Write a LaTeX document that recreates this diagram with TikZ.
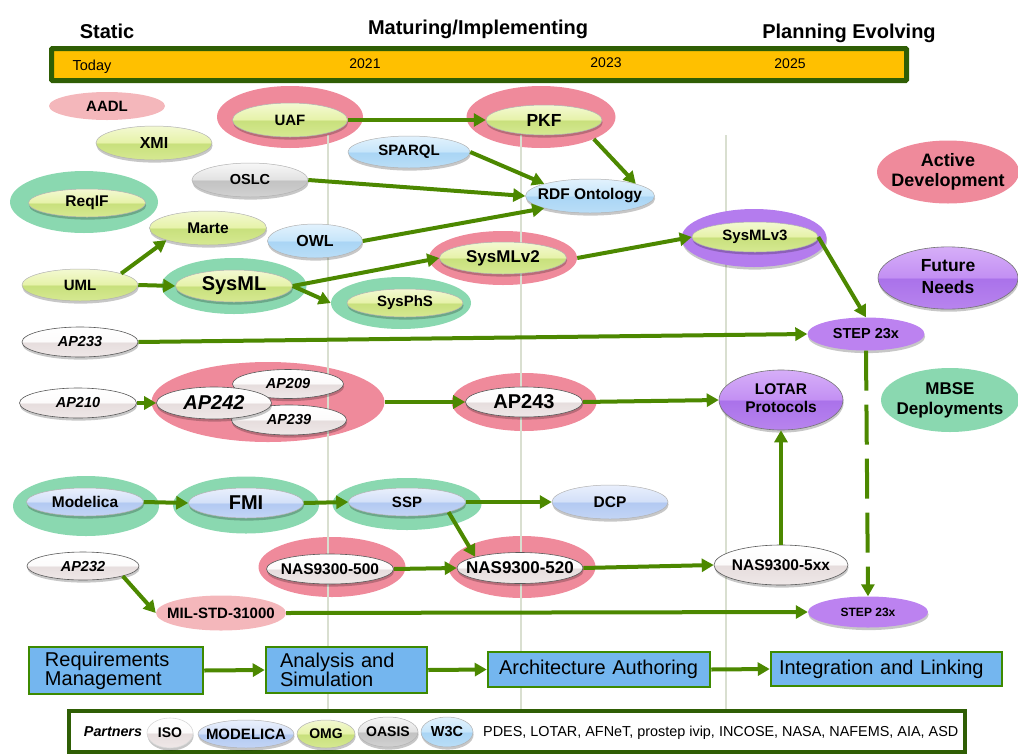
\documentclass[tikz,border=0pt]{standalone}
\usepackage{fontspec}
\setmainfont{Liberation Sans}
\usetikzlibrary{shapes.geometric,arrows.meta,shadows}

% palette
\definecolor{lnk}{HTML}{4C8800}
\definecolor{gridc}{HTML}{D9DFD0}
\definecolor{halopink}{HTML}{EF8A9B}
\definecolor{halogreen}{HTML}{8AD8B0}
\definecolor{lightpink}{HTML}{F4B7BB}
\definecolor{stepviolet}{HTML}{BC82F0}
\definecolor{haloviolet}{HTML}{B47CEE}
\definecolor{barfill}{HTML}{FFC000}
\definecolor{barline}{HTML}{2F5E05}
\definecolor{boxfill}{HTML}{74B6EF}
\definecolor{boxline}{HTML}{3E8A00}

% glossy fills: bottom, lower middle, upper middle, top
\definecolor{ygA}{HTML}{D6E992}\definecolor{ygB}{HTML}{C8E07C}
\definecolor{ygC}{HTML}{E6F2A9}\definecolor{ygD}{HTML}{F3F9D2}
\definecolor{whA}{HTML}{EFE8E8}\definecolor{whB}{HTML}{E6DDDD}
\definecolor{whC}{HTML}{FCFBFB}\definecolor{whD}{HTML}{FFFFFF}
\definecolor{lbA}{HTML}{BADEF7}\definecolor{lbB}{HTML}{A9D5F5}
\definecolor{lbC}{HTML}{C6E5FA}\definecolor{lbD}{HTML}{E2F2FD}
\definecolor{pbA}{HTML}{C3D5F5}\definecolor{pbB}{HTML}{B2C9F2}
\definecolor{pbC}{HTML}{D3E0F8}\definecolor{pbD}{HTML}{E9EFFC}
\definecolor{grA}{HTML}{D2D2D2}\definecolor{grB}{HTML}{C2C2C2}
\definecolor{grC}{HTML}{E2E2E2}\definecolor{grD}{HTML}{F7F7F7}
\definecolor{puA}{HTML}{B884EE}\definecolor{puB}{HTML}{AA72EA}
\definecolor{puC}{HTML}{C390F3}\definecolor{puD}{HTML}{D6AEF8}

\newcommand{\glossyshade}[5]{%
  \pgfdeclareverticalshading{#1}{100bp}{color(0bp)=(#2); color(25bp)=(#2);
    color(49.5bp)=(#3); color(50.5bp)=(#4); color(75bp)=(#5); color(100bp)=(#5)}}
\glossyshade{glossyyg}{ygA}{ygB}{ygC}{ygD}
\glossyshade{glossywh}{whA}{whB}{whC}{whD}
\glossyshade{glossylb}{lbA}{lbB}{lbC}{lbD}
\glossyshade{glossypb}{pbA}{pbB}{pbC}{pbD}
\glossyshade{glossygr}{grA}{grB}{grC}{grD}
\glossyshade{glossypu}{puA}{puB}{puC}{puD}

% zero-width label so the ellipse keeps its given size
\newcommand{\ctext}[1]{\makebox[0pt]{#1}}
\newcommand{\twolines}[2]{\makebox[0pt]{\begin{tabular}{@{}c@{}}#1\\#2\end{tabular}}}

\tikzset{
  ov/.style={ellipse, inner sep=0pt, font=\bfseries\fontsize{15}{17}\selectfont},
  sz/.style 2 args={minimum width=#1pt, minimum height=#2pt},
  fs/.style={font=\bfseries\fontsize{#1}{#1}\selectfont},
  fsi/.style={font=\bfseries\itshape\fontsize{#1}{#1}\selectfont},
  halo/.style={ov, fill=#1},
  softshadow/.style={drop shadow={shadow xshift=0.6pt, shadow yshift=-2.6pt, opacity=0.22, fill=black}},
  gl/.style={ov, shading=glossy#1, draw=black!30, line width=0.5pt, softshadow},
  glw/.style={ov, shading=glossywh, draw=black!65, line width=0.6pt, softshadow},
  glp/.style={ov, shading=glossypu, draw=black!55, line width=0.6pt, softshadow},
  stepnode/.style={ov, fill=stepviolet, softshadow},
  conn/.style={draw=lnk, line width=4pt, -{Triangle[length=12pt,width=13pt]}},
  gridline/.style={draw=gridc, line width=1.4pt},
  stagebox/.style={draw=boxline, line width=2.5pt, fill=boxfill, inner ysep=0pt,
    align=left, font=\fontsize{20}{19}\selectfont},
}

\begin{document}
\begin{tikzpicture}[x=1pt,y=-1pt]
\useasboundingbox (0,0) rectangle (1018,753);

% ---------- phase headings and time bar ----------
\node[fs=20] (hstatic) at (107,31) {Static};
\node[fs=20] (hmature) at (478,29) {Maturing/Implementing};
\node[fs=20] (hplan) at (849,33) {Planning Evolving};

\node[draw=barline, line width=5pt, fill=barfill, rounded corners=1pt,
      minimum width=855pt, minimum height=32pt, inner sep=0pt] (bar) at (479,64.5) {};
\node[font=\fontsize{14.5}{16}\selectfont] (ttoday) at (92,67) {Today};
\node[font=\fontsize{14}{16}\selectfont] (t2021) at (365,64) {2021};
\node[font=\fontsize{14}{16}\selectfont] (t2023) at (606,63) {2023};
\node[font=\fontsize{14}{16}\selectfont] (t2025) at (790,64) {2025};

% ---------- halos and flat ovals ----------
\node[halo=halopink, sz={146}{62}] (uafH) at (290,117) {};
\node[halo=halopink, sz={149}{62}] (pkfH) at (541,117) {};
\node[halo=halogreen, sz={148}{62}] (reqifH) at (84,202) {};
\node[halo=halogreen, sz={145}{56}] (sysmlH) at (234,286) {};
\node[halo=halopink, sz={148}{54}] (sysmlvtwoH) at (503,258) {};
\node[halo=halogreen, sz={140}{52}] (sysphsH) at (401,303) {};
\node[halo=halopink, sz={233}{80}] (apfamH) at (268,402) {};
\node[halo=halopink, sz={145}{58}] (apthreeH) at (524,402) {};
\node[halo=halogreen, sz={146}{60}] (modelicaH) at (86,506) {};
\node[halo=halogreen, sz={146}{57}] (fmiH) at (246,505) {};
\node[halo=halogreen, sz={149}{52}] (sspH) at (407,504) {};
\node[halo=halopink, sz={147}{60}] (nasfiveH) at (332,567) {};
\node[halo=halopink, sz={147}{62}] (nastwoH) at (522,567) {};

\node[halo=lightpink, sz={116}{28}] (aadl) at (107,106) {\ctext{AADL}};
\node[halo=lightpink, sz={130}{35}] (milstd) at (221,613) {\ctext{MIL-STD-31000}};
\node[halo=halopink, sz={142}{63}, font=\bfseries\fontsize{18}{20}\selectfont] (active) at (948,172)
  {\twolines{Active}{Development}};
\node[halo=halogreen, sz={138}{64}, font=\bfseries\fontsize{17}{20}\selectfont] (mbse) at (950,400)
  {\twolines{MBSE}{Deployments}};

% ---------- year grid ----------
\draw[gridline] (328,135) -- (328,715);
\draw[gridline] (521,135) -- (521,715);
\draw[gridline] (726,135) -- (726,715);

% ---------- glossy standards ----------
\node[gl=yg, sz={115}{34}] (uaf) at (290,120) {\ctext{UAF}};
\node[gl=yg, sz={116}{30}, fs=17.5] (pkf) at (544,120) {\ctext{PKF}};
\node[gl=yg, sz={116}{34}, fs=16] (xmi) at (154,143) {\ctext{XMI}};
\node[gl=yg, sz={117}{28}, fs=15.5] (reqif) at (87,203) {\ctext{ReqIF}};
\node[gl=gr, sz={116}{34}, fs=14.5] (oslc) at (250,180) {\ctext{OSLC}};
\node[gl=yg, sz={117}{34}, fs=15.5] (marte) at (208,228) {\ctext{Marte}};
\node[gl=lb, sz={95}{34}, fs=16] (owl) at (315,241) {\ctext{OWL}};
\node[gl=yg, sz={116}{32}] (uml) at (80,285) {\ctext{UML}};
\node[gl=yg, sz={117}{32}, fs=20] (sysml) at (234,286) {\ctext{SysML}};
\node[gl=lb, sz={122}{32}] (sparql) at (409,152) {\ctext{SPARQL}};
\node[gl=lb, sz={129}{34}, fs=15.5] (rdf) at (590,196) {\ctext{RDF Ontology}};
\node[gl=yg, sz={127}{32}, fs=17] (sysmlvtwo) at (503,258) {\ctext{SysMLv2}};
\node[gl=yg, sz={116}{28}] (sysphs) at (405,303) {\ctext{SysPhS}};

\node[ov, fill=haloviolet, sz={145}{58}, softshadow] (sysmlvthreeH) at (754,238) {};
\node[gl=yg, sz={126}{30}] (sysmlvthree) at (755,237) {\ctext{SysMLv3}};

\node[glp, sz={140}{59}, font=\bfseries\fontsize{17.5}{22}\selectfont] (future) at (948,278)
  {\twolines{Future}{Needs}};

\node[stepnode, sz={117}{33}, fs=14.5] (stepup) at (866,334) {\ctext{STEP 23x}};
\node[stepnode, sz={120}{31}, fs=12] (steplow) at (868,612) {\ctext{STEP 23x}};

\node[glw, sz={116}{30}, fsi=14.5] (apthreethree) at (80,342) {\ctext{AP233}};
\node[glw, sz={117}{30}, fsi=14.5] (aptwoten) at (78,403) {\ctext{AP210}};
\node[glw, sz={111}{29}, fsi=14.5] (aptwonine) at (288,384) {\ctext{AP209}};
\node[glw, sz={115}{30}, fsi=14.5] (aptwothreenine) at (289,420) {\ctext{AP239}};
\node[glw, sz={115}{32}, fsi=20] (aptwofourtwo) at (214,403) {\ctext{AP242}};
\node[glw, sz={117}{30}, fs=20] (aptwofourthree) at (524,402) {\ctext{AP243}};

\node[glp, sz={124}{60}, font=\bfseries\fontsize{15.5}{18.5}\selectfont] (lotar) at (781,400)
  {\twolines{LOTAR}{Protocols}};

\node[gl=pb, sz={117}{28}, fs=15.5] (modelica) at (85,502) {\ctext{Modelica}};
\node[gl=pb, sz={115}{30}, fs=20] (fmi) at (246,503) {\ctext{FMI}};
\node[gl=pb, sz={117}{28}] (ssp) at (407,502) {\ctext{SSP}};
\node[gl=pb, sz={116}{34}, fs=15.5] (dcp) at (610,502) {\ctext{DCP}};

\node[glw, sz={127}{30}, fs=15.5] (nasfive) at (330,569) {\ctext{NAS9300-500}};
\node[glw, sz={126}{31}, fs=17] (nastwo) at (520,568) {\ctext{NAS9300-520}};
\node[glw, sz={134}{40}, fs=15.5] (nasxx) at (781,565) {\ctext{NAS9300-5xx}};
\node[glw, sz={112}{28}, fsi=14.5] (aptwothreetwo) at (83,566) {\ctext{AP232}};

% ---------- connectors ----------
\draw[conn] (uml.north east) -- (marte.south west);
\draw[conn] (uml.east) -- (sysml.west);
\draw[conn] (sysml.east) -- (sysphsH.west);
\draw[conn] (sysml.east) -- (sysmlvtwo.west);
\draw[conn] (uaf.east) -- (pkf.west);
\draw[conn] (sparql.east) -- (rdf.north west);
\draw[conn] (oslc.east) -- (rdf.west);
\draw[conn] (owl.east) -- (rdf.south west);
\draw[conn] (pkfH.south east) -- (rdf.north east);
\draw[conn] (sysmlvtwoH.east) -- (sysmlvthree.west);
\draw[conn] (sysmlvthree.east) -- (stepup.north);
\draw[conn] (apthreethree.east) -- (stepup.west);
\draw[conn] (aptwoten.east) -- (aptwofourtwo.west);
\draw[conn] (apfamH.east) -- (aptwofourthree.west);
\draw[conn] (aptwofourthree.east) -- (lotar.west);
\draw[conn, dash pattern=on 40pt off 14pt] (stepup.south) -- (steplow.north);
\draw[conn] (modelica.east) -- (fmi.west);
\draw[conn] (fmi.east) -- (ssp.west);
\draw[conn] (ssp.east) -- (dcp.west);
\draw[conn] (ssp.south east) -- (nastwo.north west);
\draw[conn] (nasfive.east) -- (nastwo.west);
\draw[conn] (nastwo.east) -- (nasxx.west);
\draw[conn] (nasxx.north) -- (lotar.south);
\draw[conn] (aptwothreetwo.south east) -- (milstd.west);
\draw[conn] (milstd.east) -- (steplow.west);

% ---------- process stages ----------
\node[stagebox, minimum width=174pt, minimum height=47pt, text width=142pt, inner xsep=16pt]
  (req) at (116,670.5) {Requirements\\Management};
\node[stagebox, minimum width=161pt, minimum height=46pt, text width=133pt, inner xsep=14pt]
  (ana) at (346.5,670) {Analysis and\\Simulation};
\node[stagebox, minimum width=222pt, minimum height=35pt, text width=200pt, inner xsep=11pt]
  (arch) at (599,669.5) {Architecture Authoring};
\node[stagebox, minimum width=231pt, minimum height=34pt, text width=215pt, inner xsep=8pt]
  (integ) at (886.5,669) {Integration and Linking};
\draw[conn] (req.east) -- (ana.west);
\draw[conn] (ana.east) -- (arch.west);
\draw[conn] (arch.east) -- (integ.west);

% ---------- partners ----------
\node[draw=barline, line width=4.5pt, fill=white, minimum width=896pt, minimum height=41pt,
      inner sep=0pt] (partners) at (517,731.5) {};
\node[fsi=14.3] (ptitle) at (113,732) {Partners};
\node[glw, sz={46}{30}, fs=14, draw=black!15] (piso) at (170,733) {\ctext{ISO}};
\node[gl=pb, sz={96}{28}, fs=15] (pmodelica) at (246,734) {\ctext{MODELICA}};
\node[gl=yg, sz={58}{28}, fs=14] (pomg) at (326,734) {\ctext{OMG}};
\node[gl=gr, sz={60}{30}, fs=14] (poasis) at (388,732) {\ctext{OASIS}};
\node[gl=lb, sz={52}{30}, fs=14.5] (pwthreec) at (447,732) {\ctext{W3C}};
\node[anchor=west, inner sep=0pt, font=\fontsize{14.4}{16}\selectfont] (plist) at (483,733)
  {PDES, LOTAR, AFNeT, prostep ivip, INCOSE, NASA, NAFEMS, AIA, ASD};
\end{tikzpicture}
\end{document}
